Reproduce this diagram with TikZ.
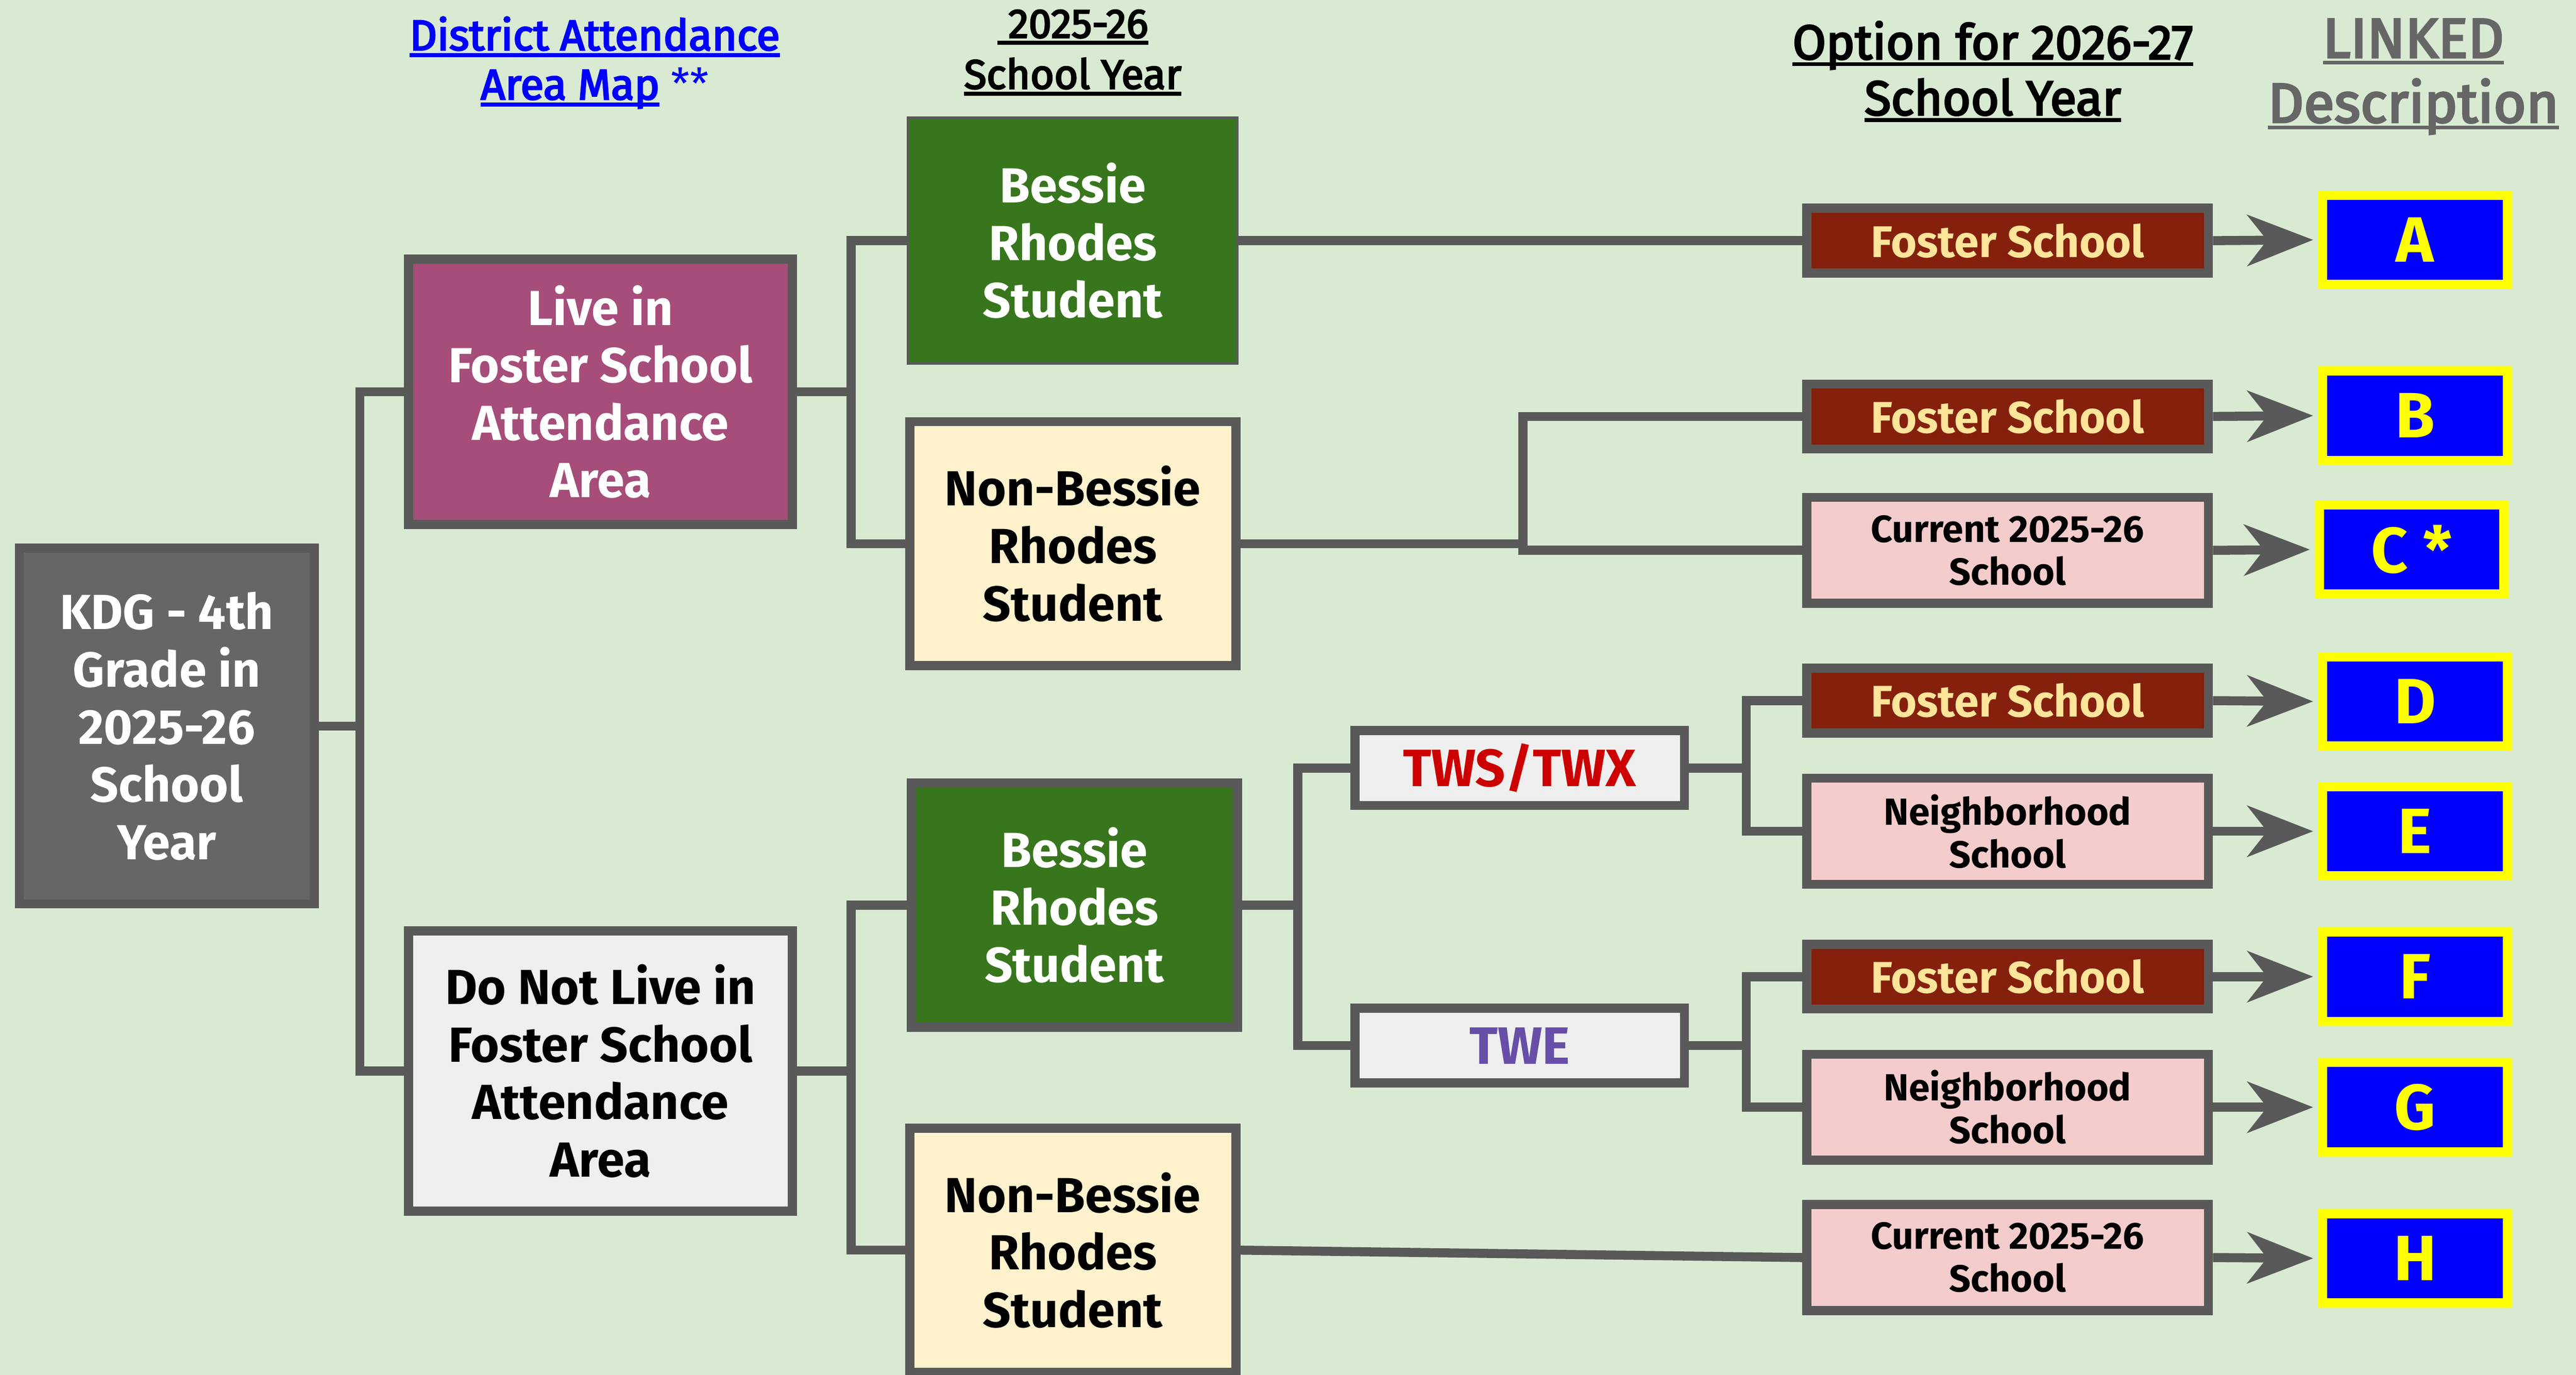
\documentclass[tikz,border=0pt]{standalone}
\usepackage{fontspec}
\setmainfont{Fira Sans}
\newfontfamily\medf[FakeBold=3.5]{Fira Sans}
\usetikzlibrary{arrows.meta}
\definecolor{bg}{HTML}{D9EAD3}
\definecolor{bordergray}{HTML}{595959}
\definecolor{kdggray}{HTML}{666666}
\definecolor{plum}{HTML}{A64D79}
\definecolor{grn}{HTML}{38761D}
\definecolor{cream}{HTML}{FFF2CC}
\definecolor{lgray}{HTML}{EFEFEF}
\definecolor{dred}{HTML}{85200C}
\definecolor{lyel}{HTML}{FFE599}
\definecolor{pink}{HTML}{F4CCCC}
\definecolor{rtext}{HTML}{CC0000}
\definecolor{ptext}{HTML}{674EA7}
\definecolor{lblue}{HTML}{0000FF}
\definecolor{yel}{HTML}{FFFF00}
\definecolor{hgray}{HTML}{666666}
\newcommand\fsz[2]{\fontsize{#1}{#2}\selectfont}
\newsavebox\ulsave
\newcommand\ulx[1]{\sbox\ulsave{#1}\rlap{\rule[-4.3pt]{\wd\ulsave}{2.4pt}}\usebox\ulsave}
\begin{document}
\begin{tikzpicture}[x=1pt,y=-1pt,
  box/.style={draw=bordergray, line width=5.5pt, align=center, inner sep=0pt},
  bigtxt/.style={font=\fsz{30}{35}\bfseries},
  opttxt/.style={font=\fsz{27}{28}\bfseries},
  smalltxt/.style={font=\fsz{23}{26}\bfseries},
  bigbox/.style={box, bigtxt, minimum width=233.5pt},
  midbox/.style={box, bigtxt, minimum width=198.5pt, minimum height=148.5pt},
  twbox/.style={box, fill=lgray, font=\fsz{32}{34}\bfseries, minimum width=200.5pt, minimum height=45.5pt},
  fost/.style={box, opttxt, fill=dred, text=lyel, minimum width=244.5pt, minimum height=39.5pt},
  pinkbox/.style={box, smalltxt, fill=pink, text=black, minimum width=244.5pt, minimum height=64.5pt},
  letter/.style={draw=yel, fill=lblue, line width=5.6pt, text=yel, font=\fsz{39}{40}\bfseries, minimum width=112.4pt, minimum height=54.4pt, inner sep=0pt},
  hdr/.style={anchor=base, inner sep=0pt, font=\fsz{26}{30}\medf},
  conn/.style={draw=bordergray, line width=5.5pt},
  arr/.style={conn, shorten >=3pt, -{Stealth[length=40pt,width=31pt,inset=12pt]}}
]
\fill[bg] (0,0) rectangle (1568,837);
\useasboundingbox (0,0) rectangle (1568,837);

% headers
\node[hdr, text=lblue] (h1a) at (362,30.5) {\ulx{District Attendance}};
\node[hdr, text=lblue] (h1b) at (362,60.5) {\ulx{Area Map} {\mdseries\rmfamily **}};
\node[hdr, font=\fsz{25}{30}\medf] (h2a) at (653,23) {\ulx{\ 2025-26}};
\node[hdr, font=\fsz{25}{30}\medf] (h2b) at (653,54) {\ulx{School Year}};
\node[hdr, font=\fsz{29.5}{33}\medf] (h3a) at (1213,36) {\ulx{Option for 2026-27}};
\node[hdr, font=\fsz{29.5}{33}\medf] (h3b) at (1213,70) {\ulx{School Year}};
\node[hdr, text=hgray, font=\fsz{34}{40}\medf] (h4a) at (1469,35) {\ulx{LINKED}};
\node[hdr, text=hgray, font=\fsz{34}{40}\medf] (h4b) at (1469,74.5) {\ulx{Description}};

% boxes
\node[box, bigtxt, fill=kdggray, text=white, minimum width=179.5pt, minimum height=216.5pt] (kdg) at (101.5,442) {KDG - 4th\\Grade in\\2025-26\\School\\Year};
\node[bigbox, fill=plum, text=white, minimum height=161.5pt] (live) at (365.5,238.5) {Live in\\Foster School\\Attendance\\Area};
\node[bigbox, fill=lgray, text=black, minimum height=170.5pt] (dnl) at (365.5,652) {Do Not Live in\\Foster School\\Attendance\\Area};
\node[midbox, fill=grn, text=white, line width=1.5pt, minimum width=200.5pt, minimum height=149.5pt] (b1) at (653,146.5) {Bessie\\Rhodes\\Student};
\node[midbox, fill=cream, text=black] (nb1) at (653,331) {Non-Bessie\\Rhodes\\Student};
\node[midbox, fill=grn, text=white] (b2) at (654,551) {Bessie\\Rhodes\\Student};
\node[midbox, fill=cream, text=black] (nb2) at (653,761) {Non-Bessie\\Rhodes\\Student};
\node[twbox, text=rtext] (tws) at (925,467.5) {TWS/TWX};
\node[twbox, text=ptext] (twe) at (925,636.5) {TWE};

\node[fost] (fa) at (1222,146.5) {Foster School};
\node[fost] (fb) at (1222,253.5) {Foster School};
\node[pinkbox] (cc) at (1222,335) {Current 2025-26\\School};
\node[fost] (fd) at (1222,426.5) {Foster School};
\node[pinkbox] (ne) at (1222,506) {Neighborhood\\School};
\node[fost] (ff) at (1222,594.5) {Foster School};
\node[pinkbox] (ng) at (1222,674) {Neighborhood\\School};
\node[pinkbox] (ch) at (1222,765.5) {Current 2025-26\\School};

\node[letter] (la) at (1470,146) {A};
\node[letter] (lb) at (1470,253) {B};
\node[letter] (lc) at (1468,334.5) {C *};
\node[letter] (ld) at (1470,427) {D};
\node[letter] (le) at (1470,506) {E};
\node[letter] (lf) at (1470,594.5) {F};
\node[letter] (lg) at (1470,674) {G};
\node[letter] (lh) at (1470,766) {H};

% junctions
\coordinate (j1) at (219,442);
\coordinate (j2) at (518,238.5);
\coordinate (j3) at (927,331);
\coordinate (j4) at (518,652);
\coordinate (j5) at (790,551);
\coordinate (j6) at (1063,467.5);
\coordinate (j7) at (1063,636.5);

% connectors
\draw[conn] (kdg.east) -- (j1);
\draw[conn] (live.west) -| (j1) |- (dnl.west);
\draw[conn] (live.east) -- (j2);
\draw[conn] (b1.west) -| (j2) |- (nb1.west);
\draw[conn] (b1.east) -- (fa.west);
\draw[conn] (nb1.east) -- (j3);
\draw[conn] (fb.west) -| (j3) |- (cc.west);
\draw[conn] (dnl.east) -- (j4);
\draw[conn] (b2.west) -| (j4) |- (nb2.west);
\draw[conn] (b2.east) -- (j5);
\draw[conn] (tws.west) -| (j5) |- (twe.west);
\draw[conn] (tws.east) -- (j6);
\draw[conn] (fd.west) -| (j6) |- (ne.west);
\draw[conn] (twe.east) -- (j7);
\draw[conn] (ff.west) -| (j7) |- (ng.west);
\draw[conn] (nb2.east) -- (ch.west);

% arrows
\draw[arr] (fa.east) -- (la.west);
\draw[arr] (fb.east) -- (lb.west);
\draw[arr] (cc.east) -- (lc.west);
\draw[arr] (fd.east) -- (ld.west);
\draw[arr] (ne.east) -- (le.west);
\draw[arr] (ff.east) -- (lf.west);
\draw[arr] (ng.east) -- (lg.west);
\draw[arr] (ch.east) -- (lh.west);
\end{tikzpicture}
\end{document}
